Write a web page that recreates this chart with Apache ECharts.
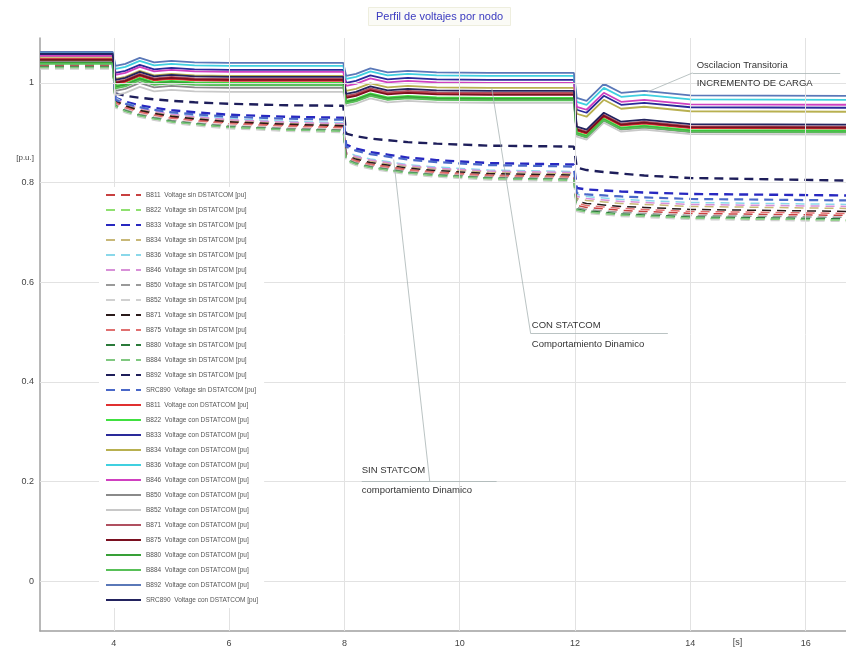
<!DOCTYPE html>
<html><head><meta charset="utf-8">
<script src="https://cdn.jsdelivr.net/npm/echarts@6/dist/echarts.min.js"></script>
<style>html,body{margin:0;padding:0;background:#fff}#c{width:846px;height:650px}</style>
</head><body><div id="c"></div>
<script>
const TIME = [2.72, 3.98, 4.03, 4.2, 4.45, 4.7, 5.0, 5.4, 6.0, 7.0, 7.98, 8.03, 8.2, 8.45, 8.75, 9.1, 9.6, 10.5, 11.98, 12.03, 12.2, 12.5, 12.8, 13.2, 14.0, 16.7];
const NODES = ['B811','B822','B833','B834','B836','B846','B850','B852','B871','B875','B880','B884','B892','SRC890'];
const SIN_COLORS = ['#c84040','#8fe070','#2828c0','#c8b878','#8ad8ea','#d890d8','#9a9a9a','#d0d0d0','#2a1a1a','#e07070','#2a7a3a','#80c880','#1e1e5a','#4a68c8'];
const CON_COLORS = ['#e03030','#40e040','#2a2a9a','#b8b050','#40d0e0','#d040c0','#8a8a8a','#c8c8c8','#b05060','#7a1020','#38a038','#58c058','#5a78b8','#23235e'];
const SIN_WIDTHS = [1.5,1.5,2.4,1.5,1.5,1.5,1.5,1.5,1.5,1.5,1.5,1.5,2.4,2.2];

const SIN_VALUES = [
 [1.034,1.034, .962,.952,.943,.937,.931,.926,.920,.915,.912, .852,.844,.837,.832,.826,.821,.815,.812, .754,.750,.747,.744,.742,.738,.734],
 [1.030,1.030, .952,.942,.933,.927,.921,.916,.910,.905,.902, .844,.836,.829,.824,.818,.813,.807,.804, .744,.740,.737,.734,.732,.728,.724],
 [1.040,1.040, .970,.962,.955,.950,.945,.941,.936,.932,.930, .876,.868,.861,.856,.850,.845,.839,.836, .789,.786,.784,.782,.780,.777,.774],
 [1.036,1.036, .966,.956,.947,.941,.935,.930,.924,.919,.916, .858,.850,.843,.838,.832,.827,.821,.818, .768,.764,.761,.758,.756,.752,.748],
 [1.042,1.042, .970,.960,.951,.945,.939,.934,.928,.923,.920, .862,.854,.847,.842,.836,.831,.825,.822, .776,.772,.769,.766,.764,.760,.756],
 [1.038,1.038, .968,.958,.949,.943,.937,.932,.926,.921,.918, .860,.852,.845,.840,.834,.829,.823,.820, .772,.768,.765,.762,.760,.756,.752],
 [1.032,1.032, .956,.946,.937,.931,.925,.920,.914,.909,.906, .848,.840,.833,.828,.822,.817,.811,.808, .750,.746,.743,.740,.738,.734,.730],
 [1.028,1.028, .950,.940,.931,.925,.919,.914,.908,.903,.900, .842,.834,.827,.822,.816,.811,.805,.802, .742,.738,.735,.732,.730,.726,.722],
 [1.035,1.035, .964,.954,.945,.939,.933,.928,.922,.917,.914, .855,.847,.840,.835,.829,.824,.818,.815, .762,.758,.755,.752,.750,.746,.742],
 [1.034,1.034, .960,.950,.941,.935,.929,.924,.918,.913,.910, .851,.843,.836,.831,.825,.820,.814,.811, .758,.754,.751,.748,.746,.742,.738],
 [1.032,1.032, .954,.944,.935,.929,.923,.918,.912,.907,.904, .846,.838,.831,.826,.820,.815,.809,.806, .747,.743,.740,.737,.735,.731,.727],
 [1.031,1.031, .953,.943,.934,.928,.922,.917,.911,.906,.903, .845,.837,.830,.825,.819,.814,.808,.805, .745,.741,.738,.735,.733,.729,.725],
 [1.045,1.045, .979,.974,.970,.967,.964,.961,.958,.955,.954, .898,.893,.888,.885,.881,.878,.874,.872, .830,.825,.821,.818,.814,.809,.804],
 [1.040,1.040, .966,.958,.951,.946,.941,.937,.932,.928,.926, .872,.864,.857,.852,.846,.841,.835,.832, .779,.776,.774,.772,.770,.767,.764]
];

const CON_VALUES = [
 [1.048,1.048, .998,1.002,1.014,1.005,1.008,1.005,1.004,1.004,1.004, .972,.976,.987,.979,.982,.979,.978,.978, .904,.898,.932,.914,.918,.909,.908],
 [1.044,1.044, .994,.998,1.010,1.001,1.004,1.001,1.000,1.000,1.000, .964,.968,.979,.971,.974,.971,.970,.970, .900,.894,.928,.910,.914,.905,.904],
 [1.056,1.056, 1.020,1.024,1.036,1.027,1.030,1.027,1.026,1.026,1.026, 1.000,1.004,1.015,1.007,1.010,1.007,1.006,1.006, .946,.940,.974,.956,.960,.951,.950],
 [1.052,1.052, 1.008,1.012,1.024,1.015,1.018,1.015,1.014,1.014,1.014, .984,.988,.999,.991,.994,.991,.990,.990, .938,.932,.966,.948,.952,.943,.942],
 [1.060,1.060, 1.028,1.032,1.044,1.035,1.038,1.035,1.034,1.034,1.034, 1.008,1.012,1.023,1.015,1.018,1.015,1.014,1.014, .962,.956,.990,.972,.976,.967,.966],
 [1.054,1.054, 1.016,1.020,1.032,1.023,1.026,1.023,1.022,1.022,1.022, .994,.998,1.009,1.001,1.004,1.001,1.000,1.000, .952,.946,.980,.962,.966,.957,.956],
 [1.042,1.042, .984,.988,1.000,.991,.994,.991,.990,.990,.990, .960,.964,.975,.967,.970,.967,.966,.966, .896,.890,.924,.906,.910,.901,.900],
 [1.040,1.040, .976,.980,.992,.983,.986,.983,.982,.982,.982, .954,.958,.969,.961,.964,.961,.960,.960, .892,.886,.920,.902,.906,.897,.896],
 [1.047,1.047, 1.002,1.006,1.018,1.009,1.012,1.009,1.008,1.008,1.008, .974,.978,.989,.981,.984,.981,.980,.980, .908,.902,.936,.918,.922,.913,.912],
 [1.046,1.046, 1.000,1.004,1.016,1.007,1.010,1.007,1.006,1.006,1.006, .970,.974,.985,.977,.980,.977,.976,.976, .906,.900,.934,.916,.920,.911,.910],
 [1.040,1.040, .992,.996,1.008,.999,1.002,.999,.998,.998,.998, .962,.966,.977,.969,.972,.969,.968,.968, .898,.892,.926,.908,.912,.903,.902],
 [1.038,1.038, .989,.993,1.005,.996,.999,.996,.995,.995,.995, .959,.963,.974,.966,.969,.966,.965,.965, .897,.891,.925,.907,.911,.902,.901],
 [1.062,1.062, 1.034,1.038,1.050,1.041,1.044,1.041,1.040,1.040,1.040, 1.014,1.018,1.029,1.021,1.024,1.021,1.020,1.020, .970,.964,.998,.980,.984,.975,.974],
 [1.058,1.058, 1.006,1.010,1.022,1.013,1.016,1.013,1.012,1.012,1.012, .978,.982,.993,.985,.988,.985,.984,.984, .912,.906,.940,.922,.926,.917,.916]
];

const X_TICKS = [4, 6, 8, 10, 12, 14, 16];
const Y_TICKS = [0, 0.2, 0.4, 0.6, 0.8, 1];
const X_RANGE = [2.72, 16.7];
const Y_RANGE = [-0.1, 1.09];

const TITLE = 'Perfil de voltajes por nodo';
const ANNOT_TEXTS = [
  {text: 'Oscilacion Transitoria', at: [14.11, 1.036]},
  {text: 'INCREMENTO DE CARGA', at: [14.11, 0.998]},
  {text: 'CON STATCOM', at: [11.25, 0.513]},
  {text: 'Comportamiento Dinamico', at: [11.25, 0.475]},
  {text: 'SIN STATCOM', at: [8.30, 0.222]},
  {text: 'comportamiento Dinamico', at: [8.30, 0.182]}
];
const LEADERS = [
  [[13.26, 0.982], [14.04, 1.02], [16.6, 1.02]],
  [[10.555, 0.99], [11.23, 0.497], [13.61, 0.497]],
  [[8.855, 0.846], [9.48, 0.200], [8.30, 0.200], [10.64, 0.200]]
];

const FONT = 'Liberation Sans, Arial, sans-serif';
const chart = echarts.init(document.getElementById('c'), null, {renderer: 'canvas'});

const sinNames = NODES.map(n => n + '  Voltage sin DSTATCOM [pu]');
const conNames = NODES.map(n => n + '  Voltage con DSTATCOM [pu]');

const series = [];
const leaderData = [];
LEADERS.forEach((pts, k) => {
  if (k === 2) {
    leaderData.push([{coord: pts[0]}, {coord: pts[1]}]);
    leaderData.push([{coord: pts[2]}, {coord: pts[3]}]);
  } else {
    for (let i = 0; i < pts.length - 1; i++) leaderData.push([{coord: pts[i]}, {coord: pts[i + 1]}]);
  }
});
series.push({
  type: 'line', name: '_grid', data: [], silent: true, z: 1,
  markLine: {
    symbol: 'none', silent: true, animation: false, label: {show: false},
    lineStyle: {color: '#e2e2e2', type: 'solid', width: 1},
    data: [...X_TICKS.map(x => ({xAxis: x})), ...Y_TICKS.map(y => ({yAxis: y}))]
  }
});
series.push({
  type: 'line', name: '_lead', data: [], silent: true, z: 6,
  markLine: {
    symbol: 'none', silent: true, animation: false, label: {show: false},
    lineStyle: {color: '#a8b4b4', type: 'solid', width: 0.8},
    data: leaderData
  }
});
SIN_VALUES.forEach((vals, i) => {
  series.push({
    type: 'line', name: sinNames[i], showSymbol: false, symbol: 'none', z: 3,
    color: SIN_COLORS[i],
    lineStyle: {color: SIN_COLORS[i], width: SIN_WIDTHS[i], type: [9, 6]},
    data: TIME.map((t, j) => [t, vals[j]])
  });
});
CON_VALUES.forEach((vals, i) => {
  series.push({
    type: 'line', name: conNames[i], showSymbol: false, symbol: 'none', z: 4,
    color: CON_COLORS[i],
    lineStyle: {color: CON_COLORS[i], width: 1.8, type: 'solid'},
    data: TIME.map((t, j) => [t, vals[j]])
  });
});

chart.setOption({
  animation: false,
  backgroundColor: '#ffffff',
  title: {
    text: TITLE, left: 368, top: 7,
    padding: [4, 8],
    backgroundColor: '#fbfbf6', borderColor: '#eeeede', borderWidth: 1,
    textStyle: {color: '#3b3bc0', fontSize: 11, fontWeight: 'normal', fontFamily: FONT}
  },
  grid: {left: 40, right: 0, top: 38, bottom: 19, containLabel: false},
  xAxis: {
    type: 'value', min: X_RANGE[0], max: X_RANGE[1],
    axisLine: {show: true, onZero: false, lineStyle: {color: '#a0a0a0', width: 1.5}},
    axisTick: {show: false},
    splitLine: {show: false},
    axisLabel: {customValues: X_TICKS, color: '#444', fontSize: 9, fontFamily: FONT, margin: 8}
  },
  yAxis: {
    type: 'value', min: Y_RANGE[0], max: Y_RANGE[1],
    axisLine: {show: true, onZero: false, lineStyle: {color: '#a0a0a0', width: 1.5}},
    axisTick: {show: false},
    splitLine: {show: false},
    axisLabel: {customValues: Y_TICKS, color: '#444', fontSize: 9, fontFamily: FONT, margin: 6,
      formatter: v => String(v)}
  },
  legend: {
    data: [...sinNames, ...conNames],
    orient: 'vertical', left: 99, top: 187,
    padding: [4, 6],
    backgroundColor: '#ffffff',
    z: 10,
    itemWidth: 35, itemHeight: 8, itemGap: 7,
    selectedMode: false,
    itemStyle: {color: 'rgba(0,0,0,0)', borderColor: 'rgba(0,0,0,0)', borderWidth: 0, opacity: 0},
    textStyle: {fontSize: 6.5, color: '#555', lineHeight: 8, fontFamily: FONT}
  },
  series: series
});

const g = [];
ANNOT_TEXTS.forEach(a => {
  const p = chart.convertToPixel({gridIndex: 0}, a.at);
  g.push({type: 'text', x: p[0], y: p[1], silent: true, z: 100,
    style: {text: a.text, fill: '#333', fontSize: 9.5, fontFamily: FONT, textAlign: 'left', textVerticalAlign: 'middle'}});
});
const ps = chart.convertToPixel({gridIndex: 0}, [14.82, Y_RANGE[0]]);
g.push({type: 'text', x: ps[0], y: ps[1] + 12, silent: true,
  style: {text: '[s]', fill: '#444', fontSize: 9, fontFamily: FONT, textAlign: 'center', textVerticalAlign: 'middle'}});
const pu = chart.convertToPixel({gridIndex: 0}, [X_RANGE[0], 0.85]);
g.push({type: 'text', x: pu[0] - 6, y: pu[1], silent: true,
  style: {text: '[p.u.]', fill: '#444', fontSize: 8, fontFamily: FONT, textAlign: 'right', textVerticalAlign: 'middle'}});
chart.setOption({graphic: g});
</script>
</body></html>
